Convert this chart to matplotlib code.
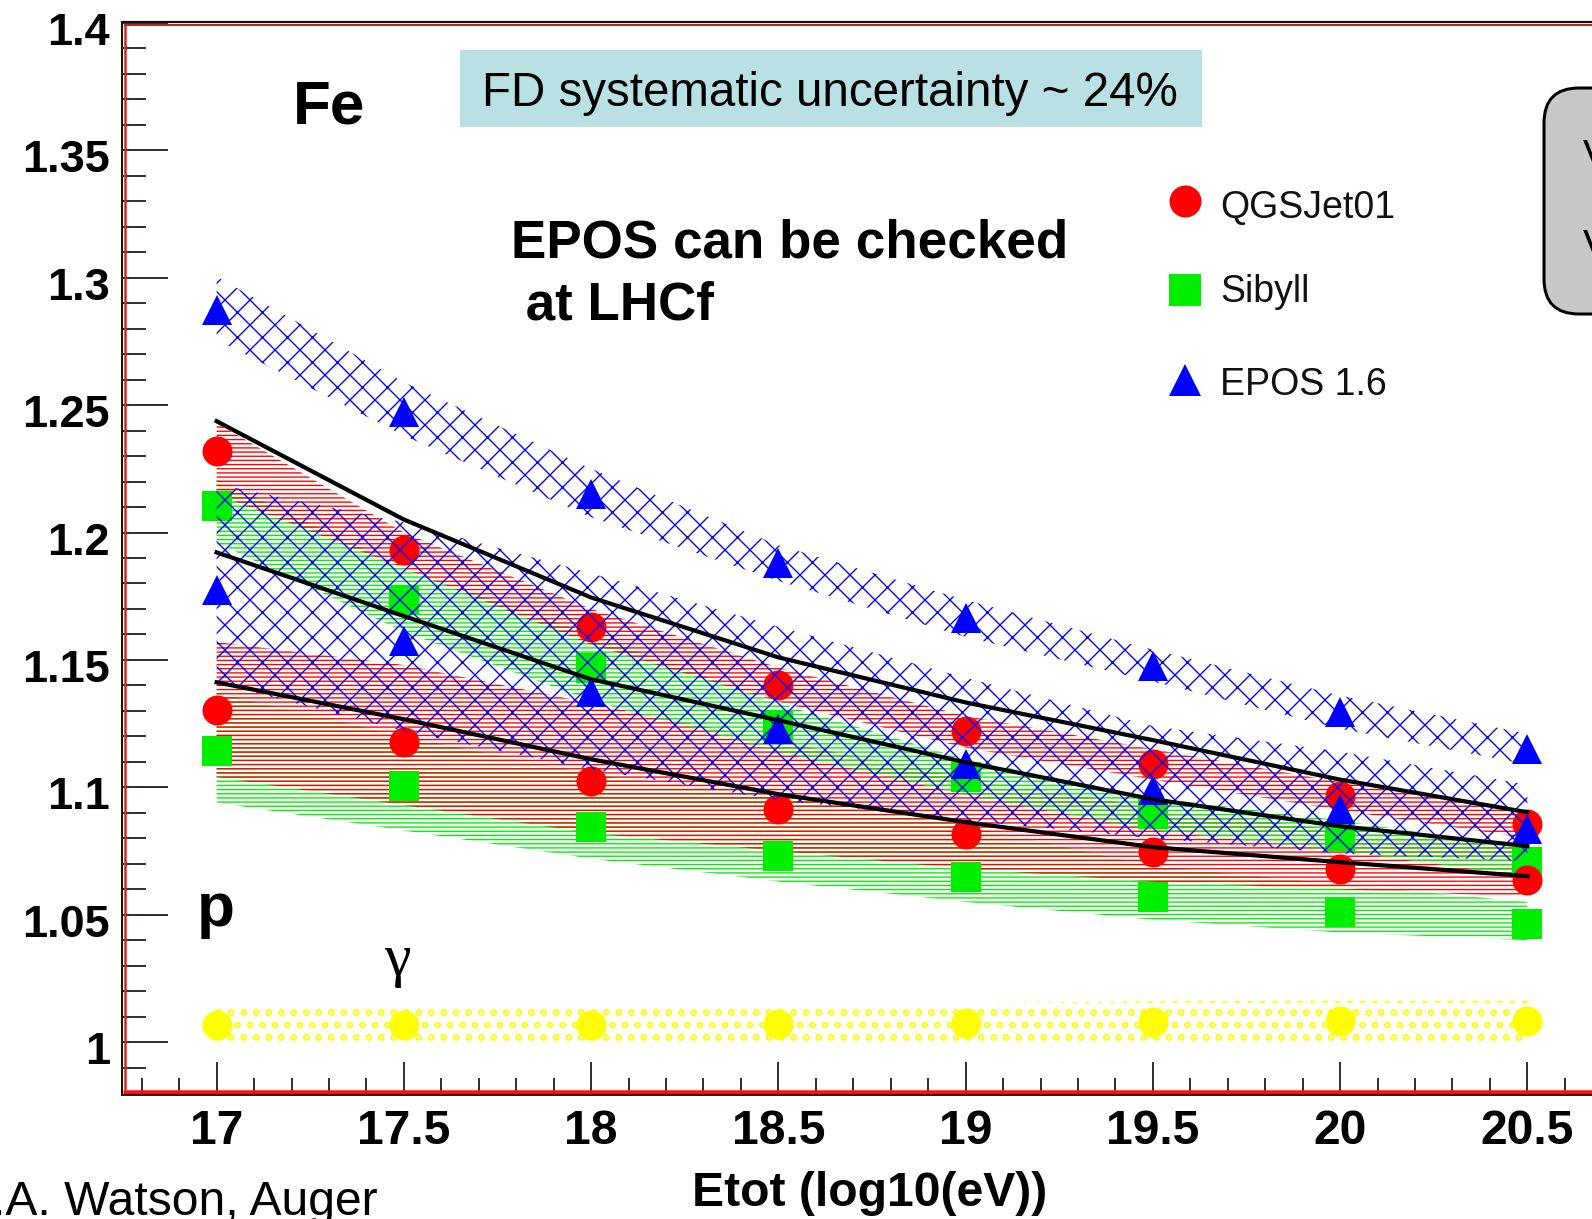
import matplotlib
matplotlib.use("Agg")
import matplotlib.pyplot as plt
import matplotlib.transforms as mtrans
from matplotlib.lines import Line2D
from matplotlib.patches import Rectangle, FancyBboxPatch

W, H, DPI = 1592, 1219, 75
plt.rcParams['font.family'] = ['Liberation Sans', 'DejaVu Sans']
plt.rcParams['hatch.linewidth'] = 1.3

# ---- data -----------------------------------------------------------------
energy = [17.0, 17.5, 18.0, 18.5, 19.0, 19.5, 20.0, 20.5]

qgsjet_fe = [1.232, 1.193, 1.163, 1.140, 1.122, 1.109, 1.0965, 1.0855]
qgsjet_p = [1.1305, 1.1176, 1.1024, 1.0914, 1.0816, 1.0745, 1.068, 1.0638]
sibyll_fe = [1.2103, 1.1737, 1.147, 1.124, 1.104, 1.0894, 1.0808, 1.0706]
sibyll_p = [1.1142, 1.1004, 1.0845, 1.073, 1.0647, 1.0569, 1.051, 1.0463]
epos_fe = [1.2872, 1.2475, 1.2151, 1.1882, 1.1663, 1.1475, 1.1294, 1.1149]
epos_p = [1.1776, 1.1573, 1.1373, 1.1227, 1.109, 1.099, 1.0914, 1.0835]
photon = [1.0065, 1.0065, 1.0067, 1.007, 1.0073, 1.008, 1.0082, 1.0082]

# uncertainty bands (low / high edges)
epos_fe_lo = [1.2757, 1.238, 1.206, 1.181, 1.159, 1.1415, 1.123, 1.109]
epos_fe_hi = [1.3004, 1.259, 1.225, 1.195, 1.1735, 1.154, 1.136, 1.121]
qgsjet_fe_lo = [1.215, 1.186, 1.156, 1.1335, 1.1155, 1.103, 1.091, 1.080]
qgsjet_fe_hi = [1.243, 1.200, 1.170, 1.147, 1.128, 1.115, 1.102, 1.091]
sibyll_fe_lo = [1.196, 1.161, 1.134, 1.114, 1.097, 1.083, 1.075, 1.065]
sibyll_fe_hi = [1.221, 1.186, 1.160, 1.133, 1.111, 1.096, 1.087, 1.076]
epos_p_lo = [1.141, 1.122, 1.107, 1.095, 1.087, 1.080, 1.074, 1.071]
epos_p_hi = [1.219, 1.204, 1.184, 1.163, 1.143, 1.124, 1.114, 1.101]
qgsjet_p_lo = [1.104, 1.093, 1.082, 1.075, 1.068, 1.063, 1.060, 1.057]
qgsjet_p_hi = [1.157, 1.148, 1.133, 1.118, 1.104, 1.092, 1.083, 1.077]
sibyll_p_lo = [1.094, 1.083, 1.072, 1.063, 1.055, 1.048, 1.043, 1.040]
sibyll_p_hi = [1.137, 1.120, 1.105, 1.097, 1.085, 1.069, 1.062, 1.055]
photon_lo = [0.9985, 0.9985, 0.9987, 0.999, 0.9993, 1.0, 1.0002, 1.0002]
photon_hi = [1.0145, 1.0145, 1.0147, 1.015, 1.0153, 1.016, 1.0162, 1.0162]

# fitted curves
fit_top = [1.2437, 1.2051, 1.1745, 1.151, 1.1333, 1.1185, 1.103, 1.0902]
fit_mid = [1.1922, 1.1672, 1.1424, 1.1263, 1.1098, 1.0953, 1.0847, 1.0769]
fit_bot = [1.1412, 1.1267, 1.111, 1.0973, 1.0863, 1.0765, 1.0706, 1.0651]

x_major = [17.0, 17.5, 18.0, 18.5, 19.0, 19.5, 20.0, 20.5]
x_labels = ['17', '17.5', '18', '18.5', '19', '19.5', '20', '20.5']
y_major = [1.0, 1.05, 1.1, 1.15, 1.2, 1.25, 1.3, 1.35, 1.4]
y_labels = ['1', '1.05', '1.1', '1.15', '1.2', '1.25', '1.3', '1.35', '1.4']

model_names = ['QGSJet01', 'Sibyll', 'EPOS 1.6']

RED, GREEN, BLUE, YELLOW = '#ff0000', '#00ee00', '#0000ff', '#ffff00'


def pt(px):
    return px * 72.0 / DPI


def fx(px):
    return px / W


def fy(py):
    return 1.0 - py / H


fig = plt.figure(figsize=(W / DPI, H / DPI), dpi=DPI)
ax = fig.add_axes([fx(123), fy(1093), (1621 - 123) / W, (1093 - 23) / H])
ax.set_xlim(16.75, 20.75)
ax.set_ylim(0.98, 1.4)


def band(lo, hi, color, hatch, z):
    xs = list(energy) + list(reversed(energy))
    ys = list(hi) + list(reversed(lo))
    ax.fill(xs, ys, facecolor='none', edgecolor=color, linewidth=0,
            hatch=hatch, zorder=z)


# hatched bands
band(sibyll_p_lo, sibyll_p_hi, GREEN, '---', 1)
band(qgsjet_p_lo, qgsjet_p_hi, RED, '---', 1.2)
band(sibyll_fe_lo, sibyll_fe_hi, GREEN, '---', 1.4)
band(qgsjet_fe_lo, qgsjet_fe_hi, RED, '---', 1.6)
band(photon_lo, photon_hi, YELLOW, 'o', 1)

ms = pt(30)
ax.plot(energy, sibyll_p, 's', color=GREEN, ms=ms, mew=0, zorder=2)
ax.plot(energy, sibyll_fe, 's', color=GREEN, ms=ms, mew=0, zorder=2)
ax.plot(energy, qgsjet_p, 'o', color=RED, ms=ms, mew=0, zorder=2.2)
ax.plot(energy, qgsjet_fe, 'o', color=RED, ms=ms, mew=0, zorder=2.2)
ax.plot(energy, photon, 'o', color=YELLOW, ms=ms, mew=0, zorder=2.2)

band(epos_p_lo, epos_p_hi, BLUE, 'x', 3)
band(epos_fe_lo, epos_fe_hi, BLUE, 'x', 3)
ax.plot(energy, epos_p, '^', color=BLUE, ms=ms, mew=0, zorder=4)
ax.plot(energy, epos_fe, '^', color=BLUE, ms=ms, mew=0, zorder=4)

for curve in (fit_top, fit_mid, fit_bot):
    ax.plot(energy, curve, '-', color='black', lw=pt(4.2), zorder=5)

# axes styling
for s in ax.spines.values():
    s.set_visible(False)
ax.set_xticks(x_major)
ax.set_xticklabels(x_labels)
ax.set_xticks([16.8 + 0.1 * i for i in range(40)], minor=True)
ax.set_yticks(y_major)
ax.set_yticklabels(y_labels)
ax.set_yticks([0.99 + 0.01 * i for i in range(41)], minor=True)
ax.tick_params(axis='both', which='both', direction='in', color='black',
               width=pt(1.6), top=False, right=False)
ax.tick_params(axis='y', which='major', length=pt(45), pad=pt(13),
               labelsize=pt(45))
ax.tick_params(axis='y', which='minor', length=pt(23))
ax.tick_params(axis='x', which='major', length=pt(31), pad=pt(16),
               labelsize=pt(48))
ax.tick_params(axis='x', which='minor', length=pt(15))
for lab in ax.get_xticklabels() + ax.get_yticklabels():
    lab.set_fontweight('bold')
shift = mtrans.ScaledTranslation(0, -6 / DPI, fig.dpi_scale_trans)
for lab in ax.get_yticklabels():
    lab.set_transform(lab.get_transform() + shift)

# frame lines (dark outline with red inner edge)
def fline(x0, y0, x1, y1, color, lw):
    fig.add_artist(Line2D([fx(x0), fx(x1)], [fy(y0), fy(y1)],
                          transform=fig.transFigure, color=color,
                          lw=pt(lw), solid_capstyle='butt', zorder=10))

fline(122.5, 21, 122.5, 1096, '#111111', 2)
fline(125, 24, 125, 1090, '#dd2222', 2.5)
fline(121.5, 22, W, 22, '#111111', 2.2)
fline(124, 24.5, W, 24.5, '#bb2222', 2)
fline(123, 1091.5, W, 1091.5, '#ff1010', 4.5)
fline(121.5, 1094.8, W, 1094.8, '#222222', 2)

# axis title
fig.text(fx(870), fy(1206), 'Etot (log10(eV))', ha='center', va='baseline',
         fontsize=pt(48), fontweight='bold')

# annotations
fig.text(fx(293), fy(124), 'Fe', ha='left', va='baseline',
         fontsize=pt(62), fontweight='bold')
fig.text(fx(197), fy(926), 'p', ha='left', va='baseline',
         fontsize=pt(62), fontweight='bold')
fig.text(fx(397), fy(975), '\u03b3', ha='center', va='baseline',
         fontsize=pt(60), family=['Liberation Serif', 'DejaVu Serif'])
fig.text(fx(511), fy(257), 'EPOS can be checked', ha='left', va='baseline',
         fontsize=pt(53), fontweight='bold')
fig.text(fx(511), fy(319), ' at LHCf', ha='left', va='baseline',
         fontsize=pt(53), fontweight='bold')

fig.add_artist(Rectangle((fx(460), fy(127)), (1202 - 460) / W, (127 - 50) / H,
                         transform=fig.transFigure, facecolor='#b9e0e2',
                         edgecolor='none', zorder=6))
fig.text(fx(482), fy(106), 'FD systematic uncertainty ~ 24%', ha='left',
         va='baseline', fontsize=pt(47.5), zorder=7)

# legend
leg_markers = ['o', 's', '^']
leg_colors = [RED, GREEN, BLUE]
leg_y = [201, 290, 380]
leg_text_y = [218, 302, 395]
for name, mk, col, my, ty in zip(model_names, leg_markers, leg_colors,
                                 leg_y, leg_text_y):
    fig.add_artist(Line2D([fx(1185)], [fy(my)], transform=fig.transFigure,
                          marker=mk, color=col, ms=pt(32), mew=0,
                          linestyle='none', zorder=8))
    fig.text(fx(1220), fy(ty), name, ha='left', va='baseline',
             fontsize=pt(37.5), color='#111111')

# rounded grey box at the right edge
fig.add_artist(FancyBboxPatch((fx(1544), fy(314)), (1760 - 1544) / W,
                              (314 - 88) / H,
                              boxstyle='round,pad=0,rounding_size=0.022',
                              transform=fig.transFigure, facecolor='#c8c8c8',
                              edgecolor='black', lw=pt(3), zorder=6,
                              mutation_aspect=W / H))
fig.text(fx(1583), fy(168), 'V', ha='left', va='baseline', fontsize=pt(40),
         zorder=7)
fig.text(fx(1583), fy(258), 'V', ha='left', va='baseline', fontsize=pt(40),
         zorder=7)

# source credit
fig.text(fx(378), fy(1215), 'A.A. Watson, Auger', ha='right', va='baseline',
         fontsize=pt(48))

fig.savefig('out.png', dpi=DPI)
